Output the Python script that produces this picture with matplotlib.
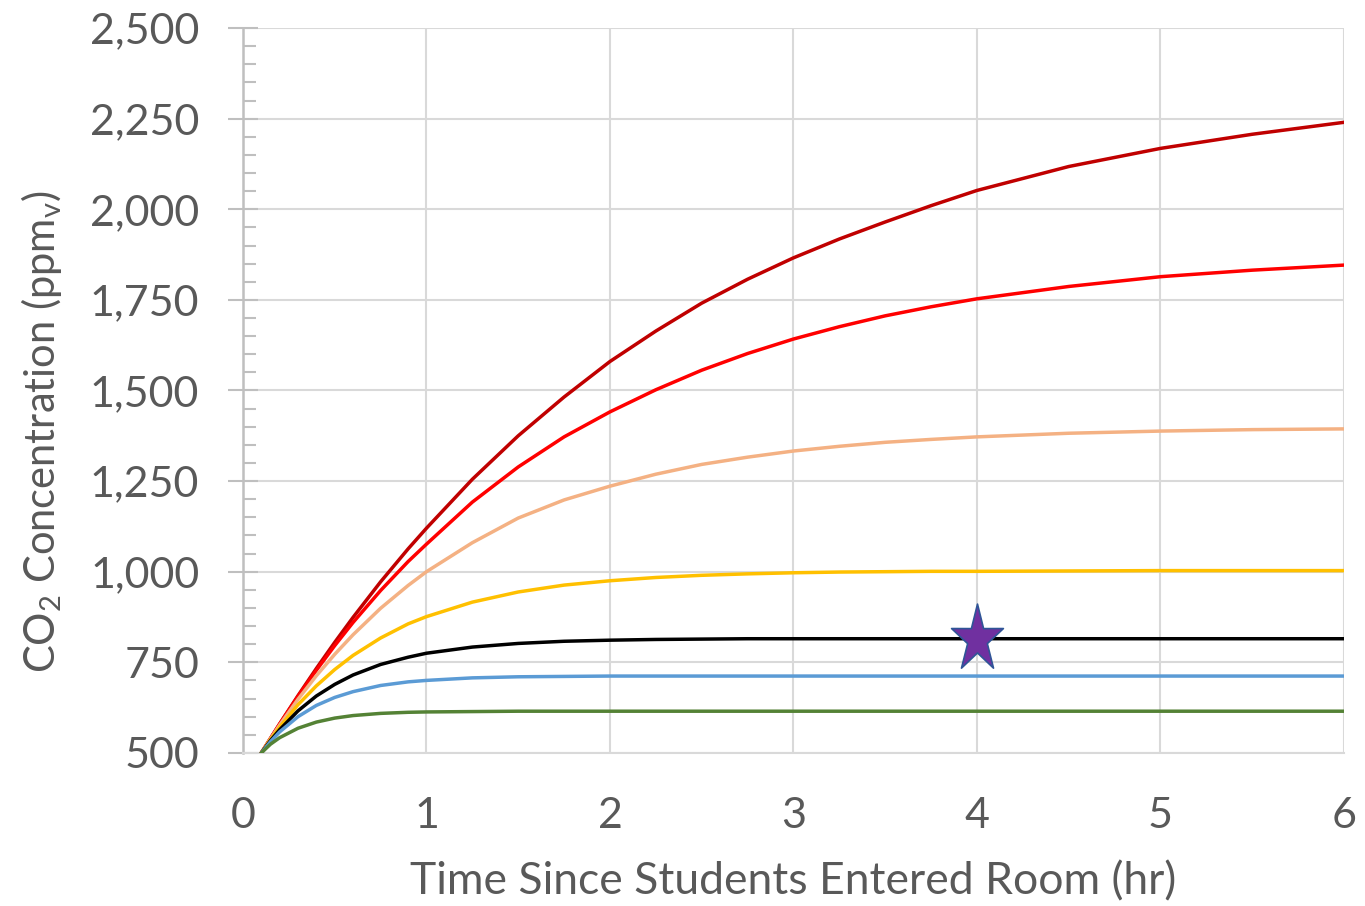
import numpy as np
import matplotlib
matplotlib.use("Agg")
import matplotlib.pyplot as plt
from matplotlib.path import Path
from matplotlib.ticker import MultipleLocator, FuncFormatter

# hours since students entered the room
hours = [0.1, 0.15, 0.2, 0.3, 0.4, 0.5, 0.6, 0.75, 0.9, 1.0, 1.25, 1.5, 1.75,
         2.0, 2.25, 2.5, 2.75, 3.0, 3.25, 3.5, 3.75, 4.0, 4.5, 5.0, 5.5, 6.0]

# CO2 concentration (ppmv)
dark_red = [500, 540, 580, 658, 733, 805, 874, 972, 1063, 1120, 1255, 1375, 1482,
            1580, 1664, 1741, 1807, 1866, 1918, 1965, 2010, 2052, 2118, 2168, 2207, 2240]
red = [500, 540, 580, 656, 728, 796, 860, 948, 1028, 1076, 1192, 1289, 1372,
       1441, 1502, 1556, 1602, 1642, 1676, 1706, 1731, 1753, 1787, 1814, 1832, 1846]
peach = [500, 539, 577, 648, 713, 772, 826, 899, 962, 1000, 1080, 1148, 1198,
         1236, 1269, 1296, 1316, 1333, 1346, 1357, 1365, 1372, 1382, 1388, 1392, 1394]
yellow = [500, 537, 571, 633, 685, 730, 769, 817, 856, 876, 916, 944, 963,
          975, 984, 990, 994, 997, 999, 1000, 1001, 1001, 1002, 1003, 1003, 1003]
black = [500, 534, 564, 616, 657, 689, 715, 744, 764, 775, 792, 802, 808,
         811, 813, 814, 815, 815, 815, 815, 815, 815, 815, 815, 815, 815]
blue = [500, 531, 558, 600, 631, 653, 669, 686, 696, 700, 707, 710, 711,
        712, 712, 712, 712, 712, 712, 712, 712, 712, 712, 712, 712, 712]
green = [500, 524, 542, 568, 585, 596, 603, 609, 612, 613, 614, 615, 615,
         615, 615, 615, 615, 615, 615, 615, 615, 615, 615, 615, 615, 615]

series = [dark_red, red, peach, yellow, black, blue, green]
colors = ["#C00000", "#FF0000", "#F4B183", "#FFC000", "#000000", "#5B9BD5", "#548235"]

star_x = [4.0]
star_y = [815]

GRAY = "#595959"
plt.rcParams["font.family"] = ["Lato", "DejaVu Sans"]

fig = plt.figure(figsize=(13.65, 9.06), dpi=100)
ax = fig.add_axes([0.178, 0.169, 0.8066, 0.8])

for vals, c in zip(series, colors):
    ax.plot(hours, vals, color=c, lw=2.5, solid_capstyle="round",
            solid_joinstyle="round", zorder=3)

# Excel star is a bit taller than wide
star = Path.unit_regular_star(5, 0.38)
star = Path(star.vertices * np.array([1.0, 1.3]), star.codes)
ax.plot(star_x, star_y, linestyle="none", marker=star, markersize=51,
        markerfacecolor="#7030A0", markeredgecolor="#2F5597", markeredgewidth=1.2, zorder=4)

ax.set_xlim(0, 6)
ax.set_ylim(500, 2500)
ax.xaxis.set_major_locator(MultipleLocator(1))
ax.yaxis.set_major_locator(MultipleLocator(250))
ax.yaxis.set_minor_locator(MultipleLocator(50))
ax.yaxis.set_major_formatter(FuncFormatter(lambda v, p: f"{int(v):,}"))

ax.grid(True, which="major", color="#D9D9D9", lw=1.5, zorder=0)
for side in ["top", "right"]:
    ax.spines[side].set_visible(False)
ax.spines["left"].set_color("#BFBFBF")
ax.spines["left"].set_linewidth(1.8)
ax.spines["bottom"].set_color("#D9D9D9")
ax.spines["bottom"].set_linewidth(1.5)

ax.tick_params(axis="y", which="major", direction="inout", length=21, width=1.5,
               color="#BFBFBF", labelsize=31, labelcolor=GRAY, pad=21)
ax.tick_params(axis="y", which="minor", direction="in", length=9, width=1.5, color="#BFBFBF")
ax.tick_params(axis="x", which="major", length=0, labelsize=31, labelcolor=GRAY, pad=32)

ax.set_xlabel("Time Since Students Entered Room (hr)", fontsize=32, color=GRAY, labelpad=19)
ax.set_ylabel("CO$_\\mathregular{2}$ Concentration (ppm$_\\mathregular{v}$)", fontsize=30,
              color=GRAY)
ax.yaxis.set_label_coords(-0.163, 0.443)

fig.savefig("out.png", dpi=100)
